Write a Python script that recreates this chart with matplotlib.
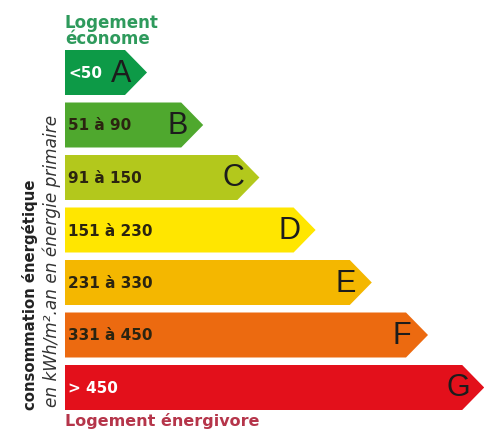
import matplotlib
matplotlib.use('Agg')
import matplotlib.pyplot as plt

# Energy classes (DPE label)
classes = ['A', 'B', 'C', 'D', 'E', 'F', 'G']
ranges = ['<50', '51 à 90', '91 à 150', '151 à 230', '231 à 330', '331 à 450', '> 450']
colors = ['#0d9a47', '#4fa82e', '#b3c81c', '#ffe600', '#f4b700', '#ec6a10', '#e3101b']
label_colors = ['white', '#2b2410', '#2b2410', '#2b2410', '#2b2410', '#2b2410', 'white']

W, H = 485, 430
fig = plt.figure(figsize=(W / 100, H / 100), dpi=100)
fig.patch.set_facecolor('white')
ax = fig.add_axes([0, 0, 1, 1])
ax.set_xlim(0, W)
ax.set_ylim(H, 0)
ax.axis('off')

x0 = 65
top0, pitch, bh = 50, 52.5, 45
r0, step, tip = 125, 56.2, 22

for i, (cls, rng, col, lc) in enumerate(zip(classes, ranges, colors, label_colors)):
    top = top0 + pitch * i
    bot = top + bh
    mid = (top + bot) / 2
    rr = r0 + step * i
    ax.fill([x0, rr, rr + tip, rr, x0], [top, top, mid, bot, bot],
            color=col, ec='none', zorder=2)
    ax.text(x0 + 3, mid + 1, rng, fontsize=11, fontweight='bold', color=lc,
            ha='left', va='center', fontfamily='DejaVu Sans', zorder=3)
    ax.text(rr - 4, mid + 1, cls, fontsize=22, color='#1c1c1c',
            ha='center', va='center', fontfamily='Liberation Sans', zorder=3)

# header / footer
ax.text(x0, 31, 'Logement\néconome', fontsize=12, fontweight='bold', color='#2e9a5c',
        ha='left', va='center', linespacing=0.8, fontfamily='DejaVu Sans')
ax.text(x0, 421, 'Logement énergivore', fontsize=11.5, fontweight='bold', color='#b5354a',
        ha='left', va='center', fontfamily='DejaVu Sans')

# vertical axis captions
ax.text(30, 295, 'consommation énergétique', fontsize=10.7, fontweight='bold',
        color='#222222', rotation=90, ha='center', va='center', fontfamily='DejaVu Sans')
ax.text(52, 261, 'en kWh/m².an en énergie primaire', fontsize=12.2, style='italic',
        color='#333333', rotation=90, ha='center', va='center', fontfamily='DejaVu Sans')

fig.savefig('out.png', dpi=100, facecolor='white')
plt.close()
